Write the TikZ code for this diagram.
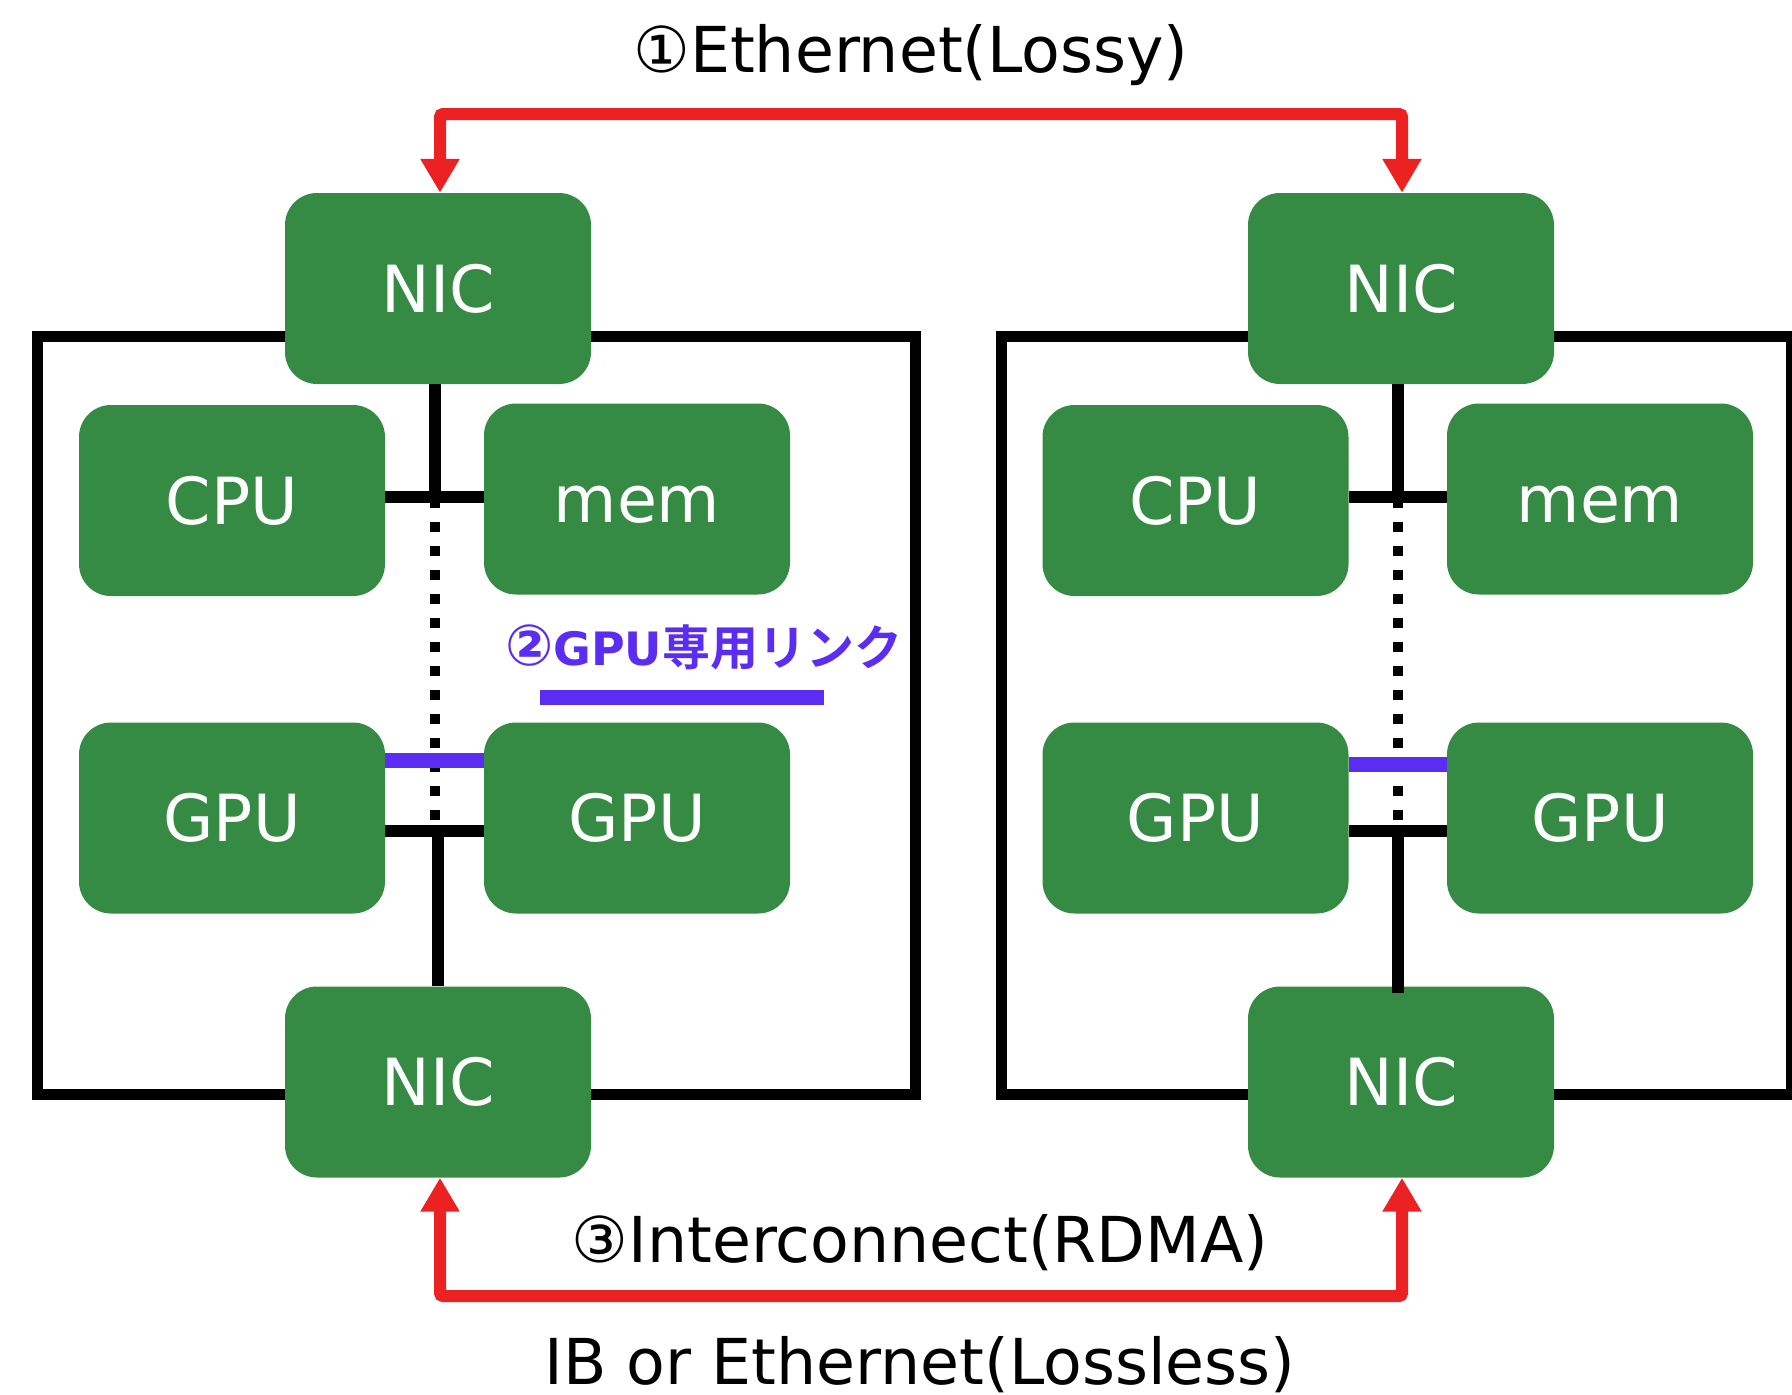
\documentclass[tikz,border=0pt]{standalone}
\usepackage{fontspec}
\setmainfont{DejaVu Sans}
\newfontfamily\cjk{Noto Sans CJK JP}[BoldFont={Noto Sans CJK JP Bold}]
\usetikzlibrary{arrows.meta}
\definecolor{boxgreen}{HTML}{358A44}
\definecolor{linkred}{HTML}{EC2121}
\definecolor{gpuviolet}{HTML}{5B2DF3}

\begin{document}
\begin{tikzpicture}[x=1pt,y=-1pt,
  unit/.style={fill=boxgreen, rounded corners=32pt, minimum width=306pt,
    minimum height=191pt, inner sep=0pt, text=white,
    text height=47.5pt, text depth=0pt,
    font=\fontsize{65}{70}\selectfont},
  chassis/.style={line width=11pt},
  bus/.style={line width=11.5pt},
  pcie/.style={line width=10pt, dash pattern=on 10pt off 14pt},
  nvlink/.style={line width=15pt, draw=gpuviolet},
  netlink/.style={draw=linkred, line width=12pt, rounded corners=3pt,
    {Triangle[length=34pt,width=37pt]}-{Triangle[length=34pt,width=37pt]}},
  caption/.style={anchor=base, inner sep=0pt, font=\fontsize{63.3}{70}\selectfont}
]
\useasboundingbox (0,0) rectangle (1792,1395);

% server chassis
\draw[chassis] (37.7,336.7) rectangle (915,1094);
\draw[chassis] (1001.7,336.7) rectangle (1791,1094);

% left server
\node[unit] (nicTL) at (438,288.5) {NIC};
\node[unit] (cpuL)  at (232,500.5) {CPU};
\node[unit] (memL)  at (637,499)   {mem};
\node[unit] (gpuL)  at (232,818)   {GPU};
\node[unit] (gpu2L) at (637,818)   {GPU};
\node[unit] (nicBL) at (438,1082)  {NIC};

% right server
\node[unit] (nicTR) at (1401,288.5) {NIC};
\node[unit] (cpuR)  at (1195.5,500.5) {CPU};
\node[unit] (memR)  at (1600,499)   {mem};
\node[unit] (gpuR)  at (1195.5,818) {GPU};
\node[unit] (gpu2R) at (1600,818)   {GPU};
\node[unit] (nicBR) at (1401,1082)  {NIC};

% internal buses, left
\coordinate (hubL) at (435,497);
\coordinate (pcieL) at (435,821);
\coordinate (nvL) at (435,760);
\coordinate (swL) at (438,831);
\draw[bus] (nicTL.south -| hubL) -- (hubL);
\draw[bus] (cpuL.east |- hubL) -- (memL.west |- hubL);
\draw[pcie] ([yshift=-1pt]hubL) -- (pcieL);
\draw[nvlink] (gpuL.east |- nvL) -- (gpu2L.west |- nvL);
\draw[bus] (gpuL.east |- swL) -- (gpu2L.west |- swL);
\draw[bus] (swL) -- (nicBL.north -| swL);

% internal buses, right
\coordinate (hubR) at (1398,497);
\coordinate (pcieR) at (1398,821);
\coordinate (nvR) at (1398,764);
\coordinate (swR) at (1398,831);
\draw[bus] (nicTR.south -| hubR) -- (hubR);
\draw[bus] (cpuR.east |- hubR) -- (memR.west |- hubR);
\draw[pcie] ([yshift=-1pt]hubR) -- (pcieR);
\draw[nvlink] (gpuR.east |- nvR) -- (gpu2R.west |- nvR);
\draw[bus] (gpuR.east |- swR) -- (gpu2R.west |- swR);
\draw[bus] (swR) -- ([yshift=-7pt]nicBR.north -| swR);

% network links between the servers
\coordinate (ethL) at (440,114);
\coordinate (ethR) at (1402,114);
\draw[netlink] (nicTL.north -| ethL) -- (ethL) -- (ethR) -- (nicTR.north -| ethR);
\coordinate (rdmaL) at (440,1296);
\coordinate (rdmaR) at (1402,1296);
\draw[netlink] (nicBL.south -| rdmaL) -- (rdmaL) -- (rdmaR) -- (nicBR.south -| rdmaR);

% labels
\node[caption] (lblEth) at (911,72.7) {①Ethernet(Lossy)};
\node[caption] (lblRdma) at (920,1262) {③Interconnect(RDMA)};
\node[caption] (lblIb) at (920,1384) {IB or Ethernet(Lossless)};
\node[anchor=base west, inner sep=0pt, text=gpuviolet, font=\bfseries]
  (lblNv) at (505,665) {{\fontsize{57}{60}\selectfont ②}{\fontsize{46}{50}\selectfont GPU}{\fontsize{48}{52}\selectfont\cjk 専用リンク}};
\draw[nvlink] (540,697) -- (823.5,697);
\end{tikzpicture}
\end{document}
